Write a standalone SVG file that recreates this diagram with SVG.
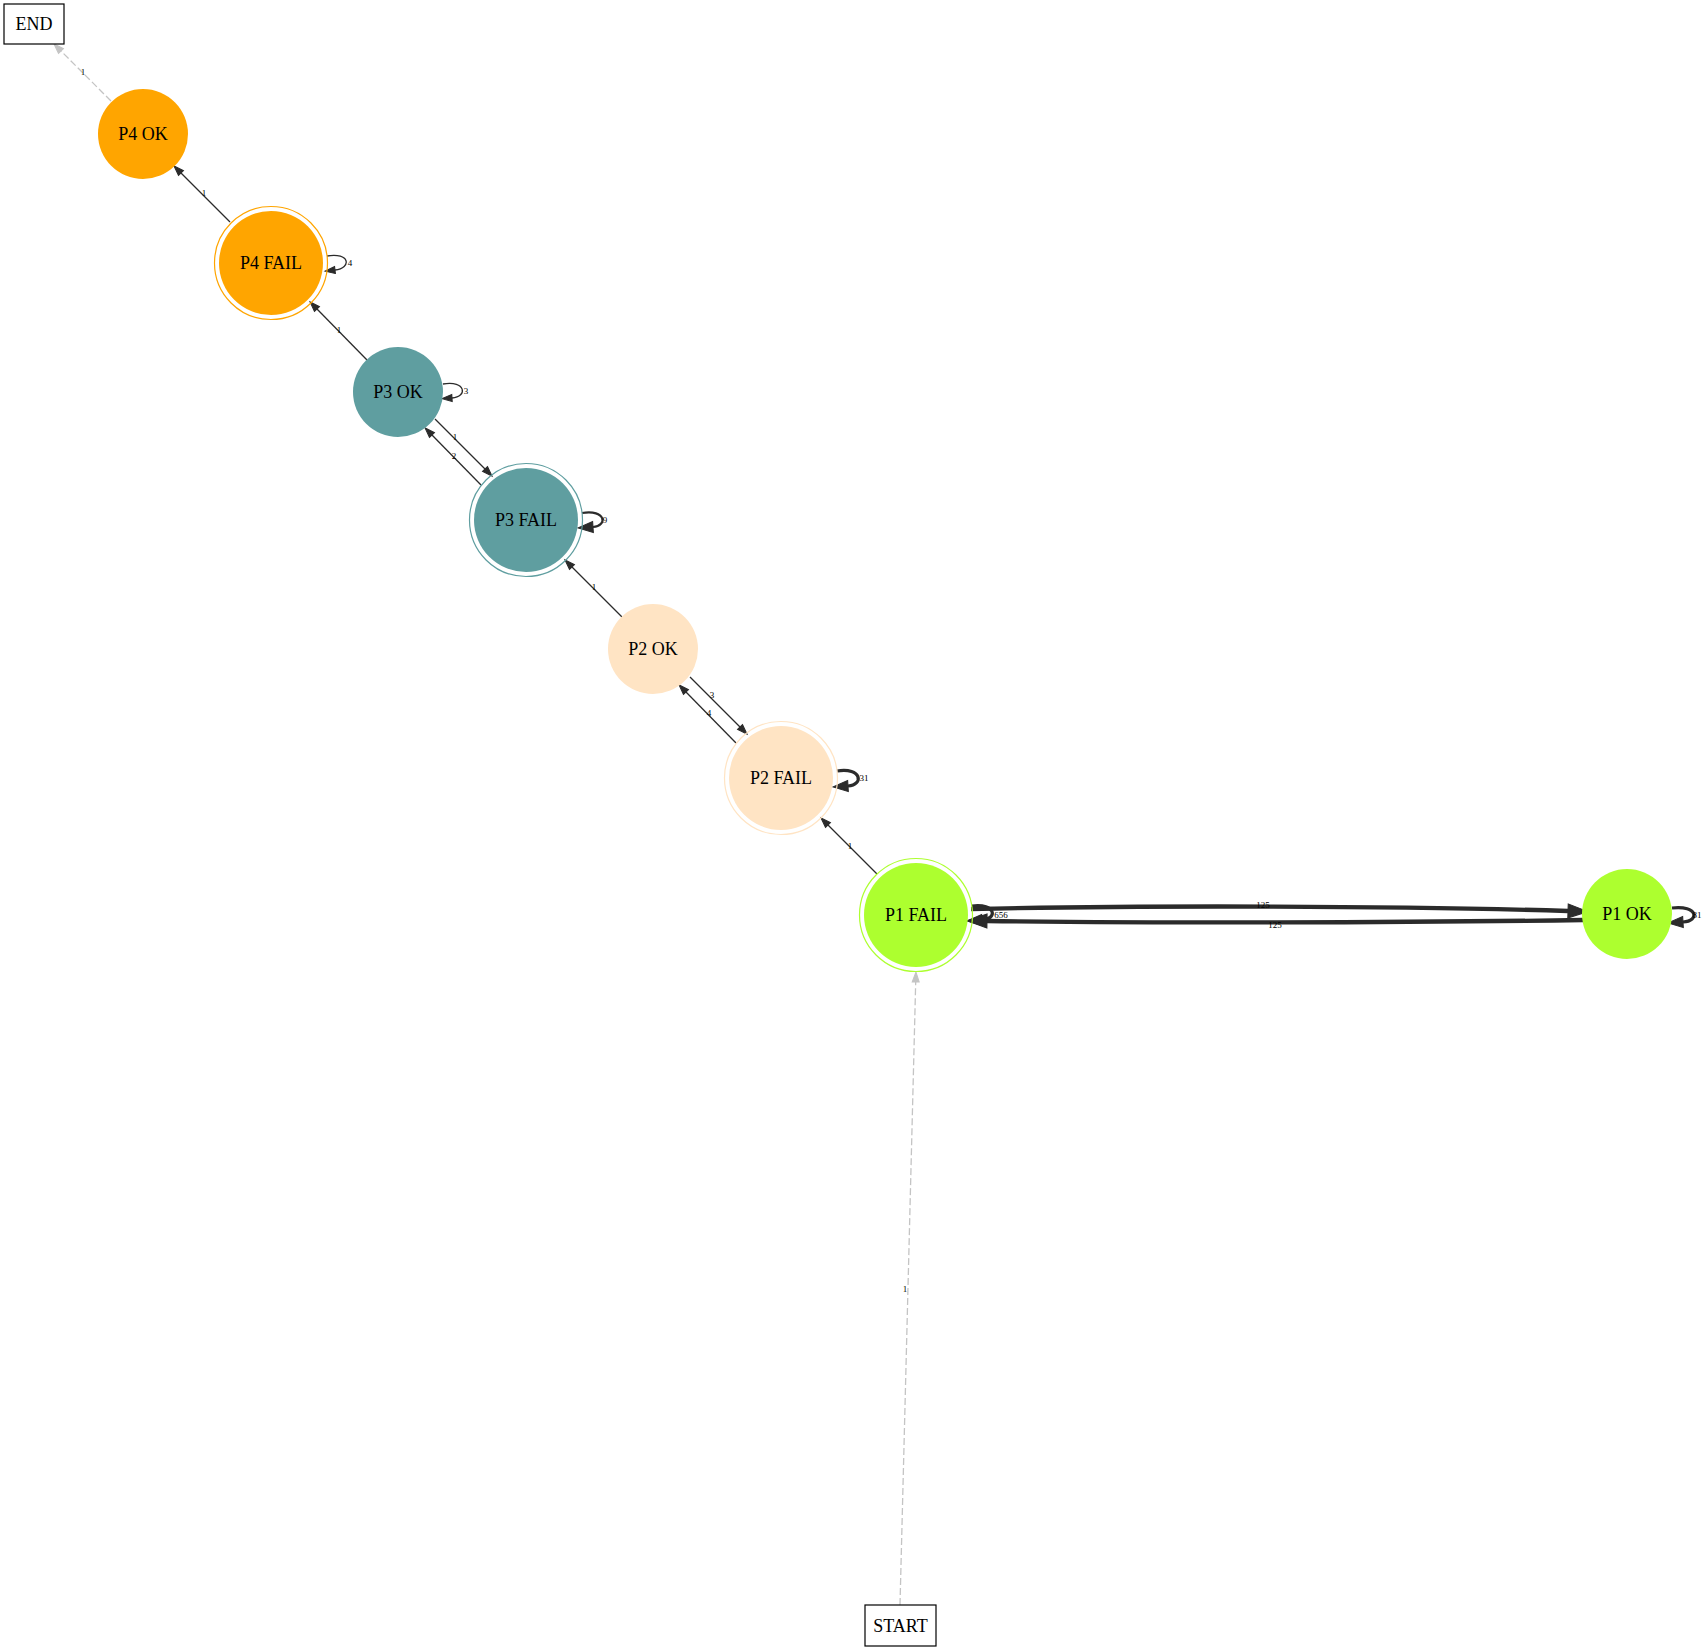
<svg xmlns="http://www.w3.org/2000/svg" width="1707" height="1650" viewBox="0 0 1707 1650">
<style>
.bg{fill:#ffffff}
.nt{font-family:"Liberation Serif","Times New Roman",serif;font-size:18px;fill:#000;text-anchor:middle}
.el{font-family:"Liberation Serif","Times New Roman",serif;font-size:9px;fill:#000;text-anchor:middle}
.box{fill:#fff;stroke:#000;stroke-width:1.2}
.e{fill:none;stroke:#2b2b2b;stroke-width:1.3;marker-end:url(#aThin)}
.e2{fill:none;stroke:#2b2b2b;stroke-width:2.2;marker-end:url(#aMid)}
.e3{fill:none;stroke:#2b2b2b;stroke-width:3.2;marker-end:url(#aMid)}
.e4{fill:none;stroke:#2b2b2b;stroke-width:4.4;marker-end:url(#aBig)}
.g{fill:none;stroke:#c4c4c4;stroke-width:1.3;stroke-dasharray:7,3;marker-end:url(#aGray)}
.orange{fill:#ffa500}
.cadet{fill:#5f9ea0}
.bisque{fill:#ffe4c4}
.lime{fill:#adff2f}
</style>
<defs>
<marker id="aThin" markerUnits="userSpaceOnUse" markerWidth="12" markerHeight="10" refX="0" refY="5" orient="auto" overflow="visible"><path d="M0,1.5 L10,5 L0,8.5 Z" fill="#2b2b2b" stroke="#2b2b2b" stroke-width="1"/></marker>
<marker id="aMid" markerUnits="userSpaceOnUse" markerWidth="18" markerHeight="14" refX="0" refY="7" orient="auto" overflow="visible"><path d="M0,1.5 L15,7 L0,12.5 Z" fill="#2b2b2b" stroke="#2b2b2b" stroke-width="1"/></marker>
<marker id="aBig" markerUnits="userSpaceOnUse" markerWidth="22" markerHeight="16" refX="0" refY="8" orient="auto" overflow="visible"><path d="M0,1 L20,8 L0,15 Z" fill="#2b2b2b" stroke="#2b2b2b" stroke-width="1"/></marker>
<marker id="aGray" markerUnits="userSpaceOnUse" markerWidth="12" markerHeight="10" refX="0" refY="5" orient="auto" overflow="visible"><path d="M0,1.5 L10,5 L0,8.5 Z" fill="#c4c4c4" stroke="#c4c4c4" stroke-width="1"/></marker>
</defs>
<rect class="bg" x="0" y="0" width="1707" height="1650"/>

<g id="connectors">
<path class="g" d="M111,101 L61,51"/>
<text class="el" x="83" y="75">1</text>
<path class="e" d="M230,222 L181,173"/>
<text class="el" x="204" y="196">1</text>
<path class="e" d="M327,256 C350,252 352,268 335,270"/>
<text class="el" x="350" y="266">4</text>
<path class="e" d="M367,360 L317,309"/>
<text class="el" x="339" y="333">1</text>
<path class="e" d="M443,384 C466,380 468,397 452,398"/>
<text class="el" x="466" y="394">3</text>
<path class="e" d="M435,419 L485,469"/>
<text class="el" x="455" y="440">1</text>
<path class="e" d="M481,485 L432,435"/>
<text class="el" x="454" y="459">2</text>
<path class="e2" d="M582,513 C606,509 608,526 593,527"/>
<text class="el" x="605" y="523">9</text>
<path class="e" d="M622,617 L572,567"/>
<text class="el" x="594" y="590">1</text>
<path class="e" d="M690,677 L740,727"/>
<text class="el" x="712" y="698">3</text>
<path class="e" d="M736,743 L686,692"/>
<text class="el" x="709" y="716">4</text>
<path class="e3" d="M837,771 C862,767 864,785 848,786"/>
<text class="el" x="864" y="781">31</text>
<path class="e" d="M877,874 L828,825"/>
<text class="el" x="850" y="849">1</text>
<path class="e3" d="M972,906 C996,903 998,919 982,920"/>
<text class="el" x="1001" y="918">656</text>
<path class="e4" d="M971,909 C1150,905 1400,906 1568,911"/>
<text class="el" x="1263" y="908">125</text>
<path class="e4" d="M1583,920 C1400,923 1150,923 987,921"/>
<text class="el" x="1275" y="928">125</text>
<path class="e3" d="M1672,908 C1698,905 1700,921 1683,922"/>
<text class="el" x="1697" y="918">81</text>
<path class="g" d="M900,1605 L915.7,982"/>
<text class="el" x="905" y="1292">1</text>
</g>

<g id="END"><rect class="box" x="4" y="4" width="60" height="40"/><text class="nt" x="34" y="30">END</text></g>
<g id="START"><rect class="box" x="865" y="1605" width="71" height="41"/><text class="nt" x="900.5" y="1632">START</text></g>

<g id="P4_OK"><circle class="orange" cx="143" cy="134" r="45"/><text class="nt" x="143" y="140">P4 OK</text></g>
<g id="P4_FAIL"><circle fill="none" stroke="#ffa500" stroke-width="1.2" cx="271" cy="263" r="56.5"/><circle class="orange" cx="271" cy="263" r="52"/><text class="nt" x="271" y="269">P4 FAIL</text></g>
<g id="P3_OK"><circle class="cadet" cx="398" cy="392" r="45"/><text class="nt" x="398" y="398">P3 OK</text></g>
<g id="P3_FAIL"><circle fill="none" stroke="#5f9ea0" stroke-width="1.2" cx="526" cy="520" r="56.5"/><circle class="cadet" cx="526" cy="520" r="52"/><text class="nt" x="526" y="526">P3 FAIL</text></g>
<g id="P2_OK"><circle class="bisque" cx="653" cy="649" r="45"/><text class="nt" x="653" y="655">P2 OK</text></g>
<g id="P2_FAIL"><circle fill="none" stroke="#ffe4c4" stroke-width="1.2" cx="781" cy="778" r="56.5"/><circle class="bisque" cx="781" cy="778" r="52"/><text class="nt" x="781" y="784">P2 FAIL</text></g>
<g id="P1_FAIL"><circle fill="none" stroke="#adff2f" stroke-width="1.2" cx="916" cy="915" r="56.5"/><circle class="lime" cx="916" cy="915" r="52"/><text class="nt" x="916" y="921">P1 FAIL</text></g>
<g id="P1_OK"><circle class="lime" cx="1627" cy="914" r="45"/><text class="nt" x="1627" y="920">P1 OK</text></g>
</svg>
